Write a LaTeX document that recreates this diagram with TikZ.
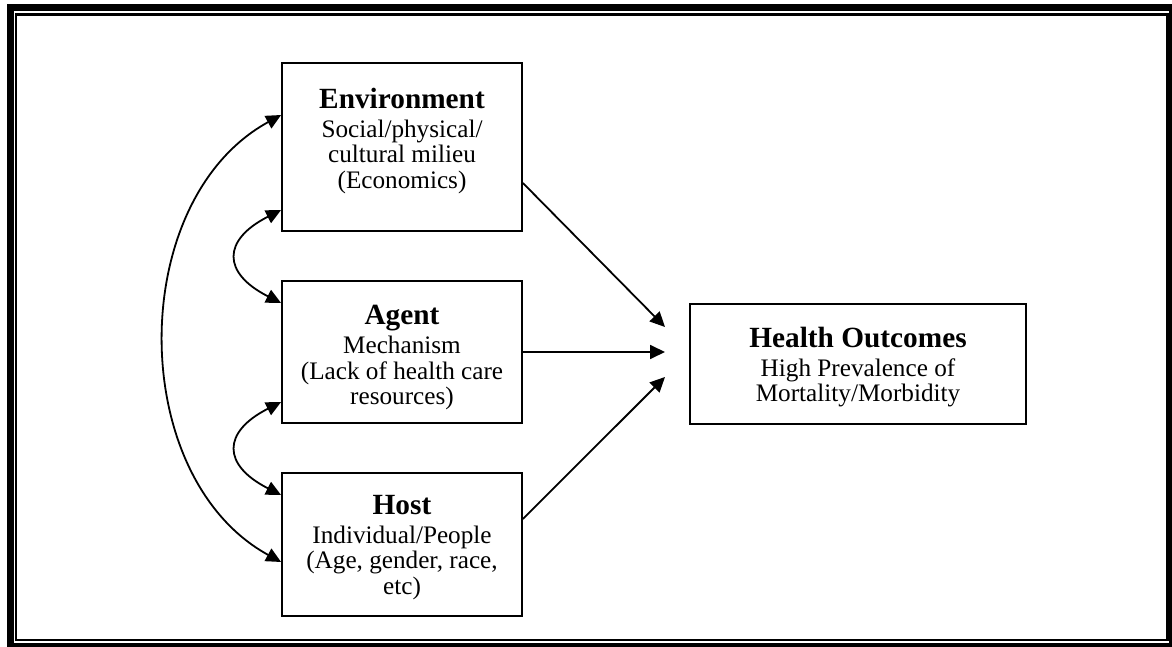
\documentclass[tikz,border=0pt]{standalone}
\usepackage{fontspec}
\setmainfont{Liberation Serif}
\usetikzlibrary{arrows.meta}
\newcommand{\headfont}{\fontsize{29.3}{29}\selectfont\bfseries}
\newcommand{\bodyfont}{\fontsize{25.2}{25.5}\selectfont}

\begin{document}
\begin{tikzpicture}[x=1pt,y=-1pt,
    factor/.style={draw,line width=1.8pt,minimum width=240pt,inner sep=0pt},
    words/.style={align=center,font=\bodyfont,inner sep=0pt},
    link/.style={line width=1.8pt,-{Triangle[length=15pt,width=14pt]}},
    both/.style={line width=1.8pt,{Triangle[length=15pt,width=14pt]}-{Triangle[length=15pt,width=14pt]}}]
    \useasboundingbox (0,0) rectangle (1172,647);
    \draw[line width=7pt] (10,8) rectangle (1172.5,646);
    \draw[line width=2.3pt] (16.3,14.5) rectangle (1167.5,640);
    %%
    \node[factor,minimum height=168pt] (env) at (402,147) {};
    \node[words] (envtext) at ([yshift=6pt]env.center)
      {{\headfont Environment}\\[3.5pt] Social/physical/\\ cultural milieu\\ (Economics)};
    \node[factor,minimum height=142pt] (agent) at (402,352) {};
    \node[words] (agenttext) at ([yshift=-6pt]agent.center)
      {{\headfont Agent}\\[3.5pt] Mechanism\\ (Lack of health care\\ resources)};
    \node[factor,minimum height=143pt] (host) at (402,544.5) {};
    \node[words] (hosttext) at ([yshift=-3pt]host.center)
      {{\headfont Host}\\[3.5pt] Individual/People\\ (Age, gender, race,\\ etc)};
    \node[factor,minimum width=336pt,minimum height=120pt] (outcome) at (858,364) {};
    \node[words] (outcometext) at ([yshift=-3pt]outcome.center)
      {{\headfont Health Outcomes}\\[3.5pt] High Prevalence of\\ Mortality/Morbidity};
    %%
    \coordinate (tipA) at (665,327);
    \coordinate (tipB) at (665,352);
    \coordinate (tipC) at (665,377);
    \draw[link] ([yshift=-36pt]env.east) -- (tipA);
    \draw[link] (agent.east) -- (tipB);
    \draw[link] ([yshift=25.5pt]host.east) -- (tipC);
    %%
    \draw[both] ([yshift=-63pt]env.west) .. controls (222,240) and (222,273) .. ([yshift=49pt]agent.west);
    \draw[both] ([yshift=-50pt]agent.west) .. controls (222,432) and (222,465) .. ([yshift=49.5pt]host.west);
    \draw[both] ([yshift=32pt]env.west) .. controls (126,200) and (126,477) .. ([yshift=-17.5pt]host.west);
\end{tikzpicture}
\end{document}
